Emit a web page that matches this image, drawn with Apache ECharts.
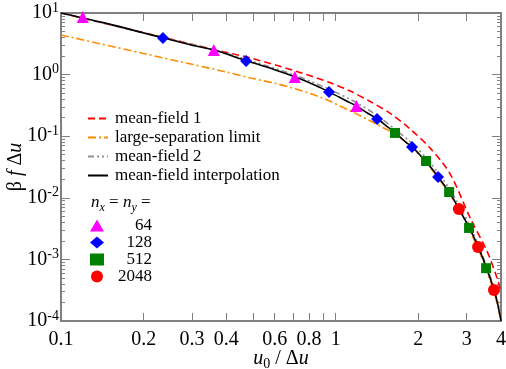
<!DOCTYPE html>
<html>
<head>
<meta charset="utf-8">
<script src="https://cdn.jsdelivr.net/npm/echarts@6/dist/echarts.min.js"></script>
</head>
<body style="margin:0">
<div id="main" style="width:506px;height:369px"></div>
<script>
// ticks
const xTicks = [0.1, 0.2, 0.3, 0.4, 0.5, 0.6, 0.7, 0.8, 0.9, 1, 2, 3, 4];
const xLabels = [0.1, 0.2, 0.3, 0.4, 0.6, 0.8, 1, 2, 3, 4];
const yMajor = [1e-4, 1e-3, 1e-2, 1e-1, 1, 10];
const yMinor = [
  2e-4, 3e-4, 4e-4, 5e-4, 6e-4, 7e-4, 8e-4, 9e-4,
  2e-3, 3e-3, 4e-3, 5e-3, 6e-3, 7e-3, 8e-3, 9e-3,
  2e-2, 3e-2, 4e-2, 5e-2, 6e-2, 7e-2, 8e-2, 9e-2,
  0.2, 0.3, 0.4, 0.5, 0.6, 0.7, 0.8, 0.9,
  2, 3, 4, 5, 6, 7, 8, 9
];

// curves
const interpX = [0.1, 0.12, 0.15, 0.2, 0.235, 0.3, 0.36, 0.47, 0.6, 0.71, 0.85, 0.95, 1.1, 1.19, 1.3, 1.42, 1.55, 1.65, 1.8, 1.9, 2.0, 2.13, 2.25, 2.36, 2.5, 2.59, 2.7, 2.81, 2.95, 3.06, 3.2, 3.3, 3.45, 3.53, 3.65, 3.77, 3.88, 4.0];
const interpY = [10.0, 8.3, 6.6, 4.75, 3.95, 3.0, 2.5, 1.7, 1.2, 0.92, 0.66, 0.52, 0.37, 0.31, 0.24, 0.19, 0.14, 0.113, 0.08, 0.067, 0.053, 0.039, 0.029, 0.022, 0.0155, 0.0124, 0.0092, 0.0066, 0.0045, 0.0033, 0.0022, 0.0016, 0.001, 0.00074, 0.0005, 0.00032, 0.0002, 0.0001];

const mf1X = [0.1, 0.2, 0.36, 0.49, 0.71, 0.955, 1.13, 1.33, 1.58, 1.87, 2.21, 2.61, 3.09, 3.56, 3.87, 3.97];
const mf1Y = [10.0, 4.8, 2.55, 1.86, 1.15, 0.74, 0.54, 0.37, 0.235, 0.13, 0.064, 0.0245, 0.0047, 0.00135, 0.0005, 0.00033];

const mf2X = [0.1, 0.2, 0.36, 0.5, 0.71, 0.95, 1.19, 1.42, 1.65, 1.9, 2.13, 2.36, 2.59, 2.81, 3.06, 3.3, 3.53, 3.77, 4.0];
const mf2Y = [10.0, 4.75, 2.53, 1.64, 0.98, 0.575, 0.35, 0.215, 0.128, 0.076, 0.045, 0.0255, 0.0143, 0.0076, 0.0037, 0.00175, 0.0008, 0.00035, 0.00012];

const largeSepX = [0.1, 0.2, 0.3, 0.4, 0.49, 0.6, 0.71, 0.8, 0.88, 0.955, 1.05, 1.13, 1.33, 1.49, 1.65, 1.9, 2.13, 2.36, 2.59, 2.81, 3.06, 3.3, 3.53, 3.77, 3.95];
const largeSepY = [4.4, 2.2, 1.47, 1.1, 0.88, 0.725, 0.59, 0.5, 0.43, 0.37, 0.3, 0.258, 0.18, 0.137, 0.108, 0.065, 0.038, 0.021, 0.012, 0.0064, 0.0031, 0.0015, 0.0007, 0.0003, 0.00013];

// simulation points
const n64X = [0.12, 0.36, 0.71, 1.19];
const n64Y = [8.6, 2.5, 0.91, 0.31];
const n128X = [0.235, 0.472, 0.946, 1.415, 1.897, 2.36];
const n128Y = [3.93, 1.66, 0.52, 0.19, 0.067, 0.0218];
const n512X = [1.645, 2.134, 2.59, 3.06, 3.53];
const n512Y = [0.113, 0.0396, 0.0124, 0.00324, 0.00072];
const n2048X = [2.81, 3.30, 3.77];
const n2048Y = [0.00658, 0.00159, 0.000318];

const zip = (xs, ys) => xs.map((x, i) => [x, ys[i]]);

const FONT = 'Liberation Serif';
const AXIS_COLOR = '#808080';

const chart = echarts.init(document.getElementById('main'));

const yAxisBase = (position, ticks, len, showLine) => ({
  type: 'log',
  logBase: 10,
  position: position,
  min: 1e-4,
  max: 10,
  splitLine: { show: false },
  axisLine: { show: showLine, lineStyle: { color: AXIS_COLOR, width: 2 } },
  axisTick: {
    show: true, inside: true, length: len, customValues: ticks,
    lineStyle: { color: AXIS_COLOR, width: 1 }
  },
  axisLabel: { show: false }
});

const yLeft = yAxisBase('left', yMajor, 9, true);
yLeft.axisLabel = {
  show: true,
  customValues: yMajor,
  margin: 2,
  fontFamily: FONT,
  fontSize: 20,
  color: '#000',
  formatter: v => '10{sup|' + Math.round(Math.log10(v)) + '}',
  rich: {
    sup: { fontFamily: FONT, fontSize: 14, color: '#000', padding: [0, 0, 10, 0] }
  }
};
yLeft.name = '{b|β }{i|f}{b| Δ}{i|u}';
yLeft.nameLocation = 'middle';
yLeft.nameGap = 35;
yLeft.nameMoveOverlap = false;
yLeft.nameRotate = 90;
yLeft.nameTextStyle = {
  fontFamily: FONT,
  rich: {
    b: { fontFamily: FONT, fontSize: 20, color: '#000' },
    i: { fontFamily: FONT, fontSize: 20, fontStyle: 'italic', color: '#000' }
  }
};

const xAxisBase = (position, showLabel) => ({
  type: 'log',
  logBase: 10,
  position: position,
  min: 0.1,
  max: 4,
  splitLine: { show: false },
  axisLine: { show: true, lineStyle: { color: AXIS_COLOR, width: 2 } },
  axisTick: {
    show: true, inside: true, length: 8, customValues: xTicks,
    lineStyle: { color: AXIS_COLOR, width: 1 }
  },
  axisLabel: showLabel ? {
    show: true,
    customValues: xLabels,
    margin: 9,
    fontFamily: FONT,
    fontSize: 20,
    color: '#000',
    formatter: v => String(v)
  } : { show: false }
});

const xBottom = xAxisBase('bottom', true);
xBottom.name = '{i|u}{s|0}{b| / Δ}{i|u}';
xBottom.nameLocation = 'middle';
xBottom.nameGap = 26;
xBottom.nameMoveOverlap = false;
xBottom.nameTextStyle = {
  fontFamily: FONT,
  rich: {
    b: { fontFamily: FONT, fontSize: 20, color: '#000' },
    i: { fontFamily: FONT, fontSize: 20, fontStyle: 'italic', color: '#000' },
    s: { fontFamily: FONT, fontSize: 14, color: '#000', padding: [10, 0, 0, 0] }
  }
};

const lineSeries = (name, xs, ys, color, type, z) => ({
  name: name,
  type: 'line',
  data: zip(xs, ys),
  showSymbol: false,
  symbol: 'none',
  smooth: 0.3,
  xAxisIndex: 0,
  yAxisIndex: 0,
  z: z,
  lineStyle: { color: color, width: 1.6, type: type },
  itemStyle: { color: color },
  silent: true
});

const scatterSeries = (name, xs, ys, symbol, size, color) => ({
  name: name,
  type: 'scatter',
  data: zip(xs, ys),
  symbol: symbol,
  symbolSize: size,
  xAxisIndex: 0,
  yAxisIndex: 0,
  z: 5,
  itemStyle: { color: color, opacity: 1 }
});

const option = {
  animation: false,
  textStyle: { fontFamily: FONT },
  grid: { left: 61, right: 5, top: 13, bottom: 48, containLabel: false, outerBoundsMode: 'none' },
  xAxis: [xBottom, xAxisBase('top', false)],
  yAxis: [
    yLeft,
    yAxisBase('left', yMinor, 4, false),
    yAxisBase('right', yMajor, 9, true),
    yAxisBase('right', yMinor, 4, false)
  ],
  legend: [
    {
      data: ['mean-field 1', 'large-separation limit', 'mean-field 2', 'mean-field interpolation'],
      orient: 'vertical',
      left: 87,
      top: 110,
      padding: 0,
      itemWidth: 20,
      itemHeight: 14,
      itemGap: 2,
      selectedMode: false,
      itemStyle: { opacity: 0 },
      textStyle: { fontFamily: FONT, fontSize: 17, color: '#000', padding: [0, 0, 0, 2] }
    },
    {
      data: ['64', '128', '512', '2048'],
      orient: 'vertical',
      left: 90,
      top: 217,
      padding: 0,
      itemWidth: 14,
      itemHeight: 12,
      itemGap: 0,
      selectedMode: false,
      formatter: name => '{n|' + name + '}',
      textStyle: {
        fontFamily: FONT, fontSize: 17, color: '#000',
        rich: { n: { fontFamily: FONT, fontSize: 17, lineHeight: 16, width: 43, align: 'right' } }
      }
    }
  ],
  graphic: [
    {
      type: 'text',
      left: 91,
      top: 194,
      style: {
        text: '{i|n}{s|x}{b| = }{i|n}{s|y}{b| =}',
        fontFamily: FONT,
        rich: {
          b: { fontFamily: FONT, fontSize: 17, fill: '#000' },
          i: { fontFamily: FONT, fontSize: 17, fontStyle: 'italic', fill: '#000' },
          s: { fontFamily: FONT, fontSize: 12, fontStyle: 'italic', fill: '#000', padding: [10, 0, 0, 0] }
        }
      }
    }
  ],
  series: [
    lineSeries('large-separation limit', largeSepX, largeSepY, '#ff8c00', [8, 3, 2, 3], 2),
    lineSeries('mean-field 1', mf1X, mf1Y, '#ff0000', [7, 4], 2),
    lineSeries('mean-field 2', mf2X, mf2Y, '#909090', [6, 3, 2, 3, 2, 3], 2),
    lineSeries('mean-field interpolation', interpX, interpY, '#000000', 'solid', 3),
    scatterSeries('64', n64X, n64Y, 'triangle', 12, '#ff00ff'),
    scatterSeries('128', n128X, n128Y, 'diamond', 12, '#0000ff'),
    scatterSeries('512', n512X, n512Y, 'rect', 10, '#008000'),
    scatterSeries('2048', n2048X, n2048Y, 'circle', 12, '#ff0000')
  ]
};

chart.setOption(option);
</script>
</body>
</html>
